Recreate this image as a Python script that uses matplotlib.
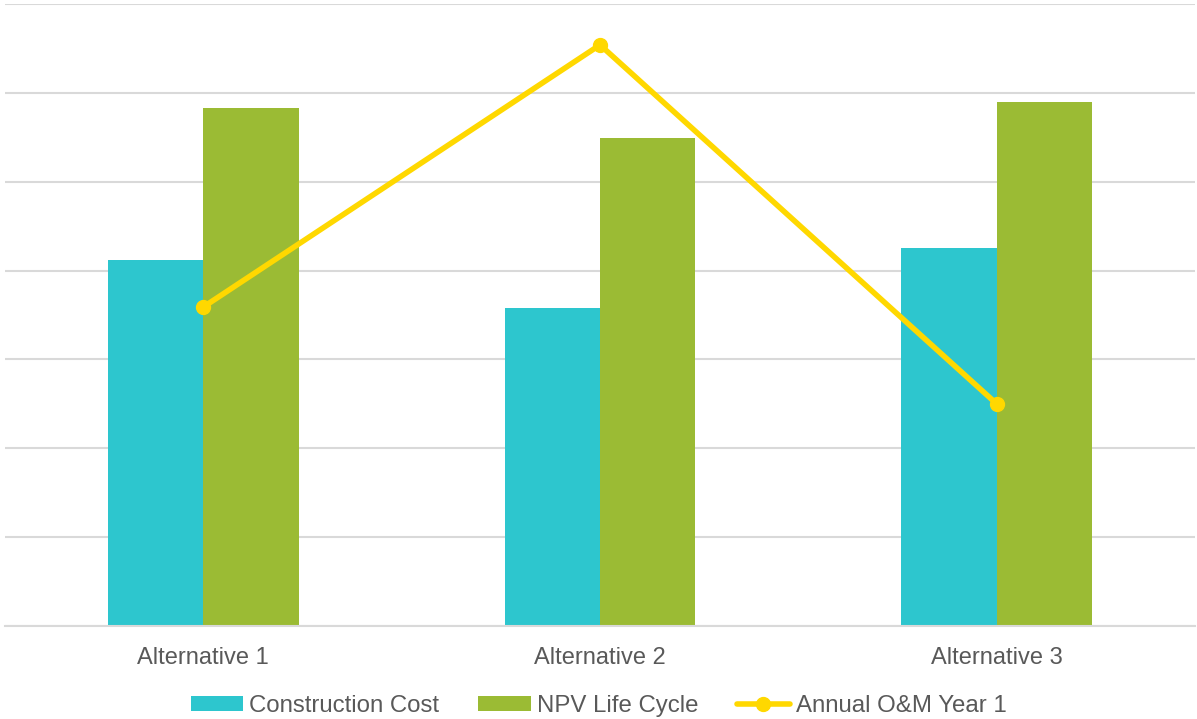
import matplotlib
matplotlib.use("Agg")
import matplotlib.pyplot as plt
import numpy as np

categories = ["Alternative 1", "Alternative 2", "Alternative 3"]
construction_cost = [4.12, 3.58, 4.25]
npv_life_cycle = [5.83, 5.49, 5.90]
annual_om_year1 = [3.59, 6.54, 2.50]

plt.rcParams['font.family'] = ['Liberation Sans', 'DejaVu Sans']

fig = plt.figure(figsize=(11.97, 7.19), dpi=100)
ax = fig.add_axes([5/1197, 1 - 626/719, 1190/1197, 622/719])

x = np.arange(len(categories))
w = 0.24
c_cyan = "#2DC6CE"
c_green = "#9BBB34"
c_yellow = "#FFD800"
txt = "#595959"

b1 = ax.bar(x - w/2, construction_cost, width=w, color=c_cyan, label="Construction Cost", zorder=2)
b2 = ax.bar(x + w/2, npv_life_cycle, width=w, color=c_green, label="NPV Life Cycle", zorder=2)
ln, = ax.plot(x, annual_om_year1, color=c_yellow, lw=4, marker="o", markersize=10,
              label="Annual O&M Year 1", zorder=3, solid_capstyle="round")

ax.set_xlim(-0.5, 2.5)
ax.set_ylim(0, 7)
ax.set_yticks(np.arange(0, 8, 1))
ax.yaxis.grid(True, color="#D9D9D9", lw=1.5, zorder=0)
ax.set_axisbelow(True)
ax.tick_params(axis="y", left=False, labelleft=False)
ax.set_xticks(x)
ax.set_xticklabels(categories, fontsize=17, color=txt)
ax.tick_params(axis="x", length=0, pad=15)
for s in ["top", "right", "left"]:
    ax.spines[s].set_visible(False)
ax.spines["bottom"].set_color("#D9D9D9")
ax.spines["bottom"].set_linewidth(1.5)

leg = fig.legend(handles=[b1, b2, ln], loc="center", bbox_to_anchor=(0.5, 1 - 706/719),
                 ncol=3, frameon=False, fontsize=17.3, handlelength=2.2, handleheight=0.6,
                 handletextpad=0.25, columnspacing=1.6)
for t in leg.get_texts():
    t.set_color(txt)

fig.savefig("out.png", dpi=100)
